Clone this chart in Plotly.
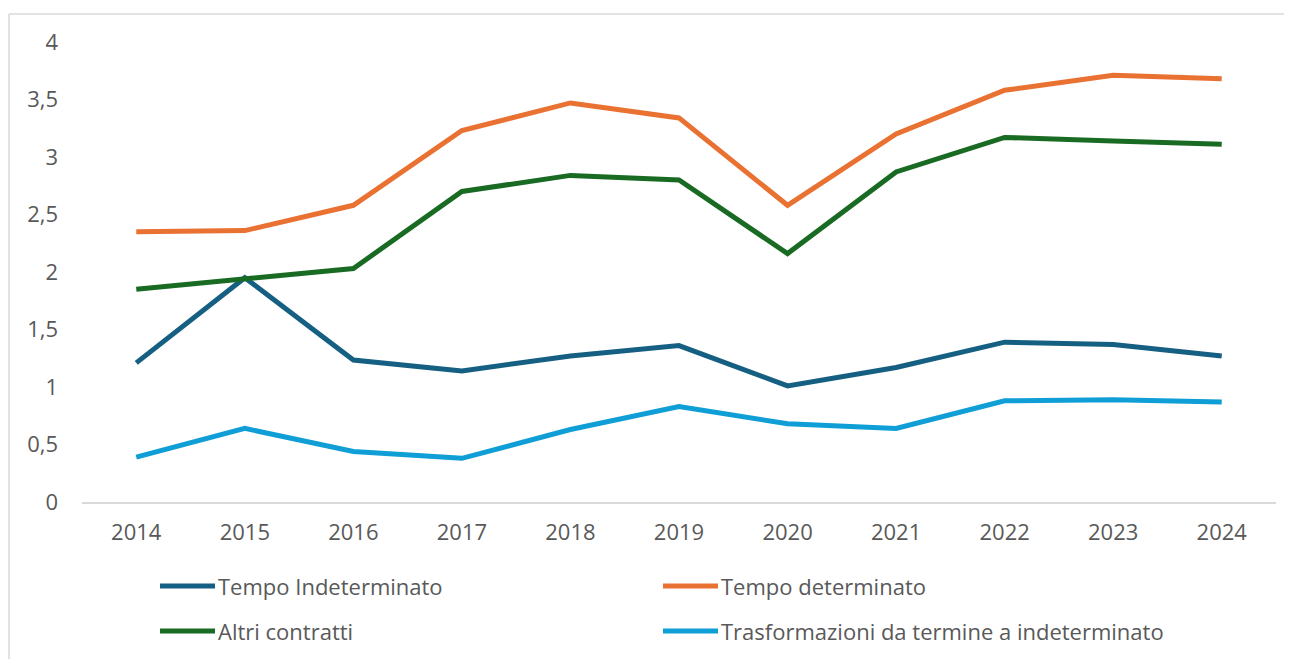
import plotly.graph_objects as go

years = ["2014", "2015", "2016", "2017", "2018", "2019", "2020", "2021", "2022", "2023", "2024"]

tempo_indeterminato = [1.21, 1.95, 1.235, 1.14, 1.27, 1.36, 1.01, 1.17, 1.39, 1.37, 1.27]
tempo_determinato = [2.35, 2.36, 2.58, 3.23, 3.47, 3.34, 2.58, 3.20, 3.58, 3.71, 3.68]
altri_contratti = [1.85, 1.945, 2.03, 2.70, 2.84, 2.80, 2.16, 2.87, 3.17, 3.14, 3.11]
trasformazioni = [0.39, 0.64, 0.44, 0.38, 0.63, 0.83, 0.68, 0.64, 0.88, 0.89, 0.87]

series_names = ["Tempo Indeterminato", "Tempo determinato", "Altri contratti",
                "Trasformazioni da termine a indeterminato"]
series_values = [tempo_indeterminato, tempo_determinato, altri_contratti, trasformazioni]
colors = ["#156082", "#E97132", "#196B24", "#0F9ED5"]

FONT = "Open Sans"
TEXT_COLOR = "#595959"

fig = go.Figure()
for name, vals, col in zip(series_names, series_values, colors):
    fig.add_trace(go.Scatter(
        x=years, y=vals, name=name, mode="lines",
        line=dict(color=col, width=5),
        showlegend=False,
    ))

# page offset (body margin) of 8px
OFF = 8
FIG_W, FIG_H = 1292 - OFF, 659 - OFF
# plot area in screen px: x 82..1276, y 42..502
L, R, T, B = 82, 1276, 42, 502
W, H = R - L, B - T
def px(xp):
    return (xp - L) / W
def py(yp):
    return (B - yp) / H

# manual legend (2 columns), screen px positions
legend_pos = [(160, 586), (663, 586), (160, 631), (663, 631)]
shapes = []
annotations = []
for (lx, ly), name, col in zip(legend_pos, series_names, colors):
    shapes.append(dict(type="line", xref="paper", yref="paper",
                       x0=px(lx), x1=px(lx + 55), y0=py(ly), y1=py(ly),
                       line=dict(color=col, width=5)))
    annotations.append(dict(xref="paper", yref="paper", x=px(lx + 56), y=py(ly),
                            xanchor="left", yanchor="middle", showarrow=False,
                            text=name, font=dict(family=FONT, size=22, color=TEXT_COLOR)))

# outer chart border (top & left visible)
border_col = "#D9D9D9"
shapes.append(dict(type="line", xref="paper", yref="paper",
                   x0=px(9), x1=px(1400), y0=py(14), y1=py(14),
                   line=dict(color=border_col, width=1.5)))
shapes.append(dict(type="line", xref="paper", yref="paper",
                   x0=px(9), x1=px(9), y0=py(14), y1=py(700),
                   line=dict(color=border_col, width=1.5)))

fig.update_layout(
    width=FIG_W, height=FIG_H,
    margin=dict(l=L - OFF, r=1292 - R, t=T - OFF, b=659 - B),
    paper_bgcolor="white", plot_bgcolor="white",
    separators=",.",
    font=dict(family=FONT, size=22, color=TEXT_COLOR),
    shapes=shapes, annotations=annotations,
    xaxis=dict(type="category", range=[-0.5, len(years) - 0.5],
               showgrid=False, zeroline=False,
               showline=True, linecolor=border_col, linewidth=1.5,
               ticks="", tickfont=dict(size=22, color=TEXT_COLOR),
               ticklabelstandoff=10),
    yaxis=dict(range=[0, 4], dtick=0.5, showgrid=False, zeroline=False,
               showline=False, ticks="", tickfont=dict(size=22, color=TEXT_COLOR),
               ticklabelstandoff=23),
)

fig.write_html("out.html")
